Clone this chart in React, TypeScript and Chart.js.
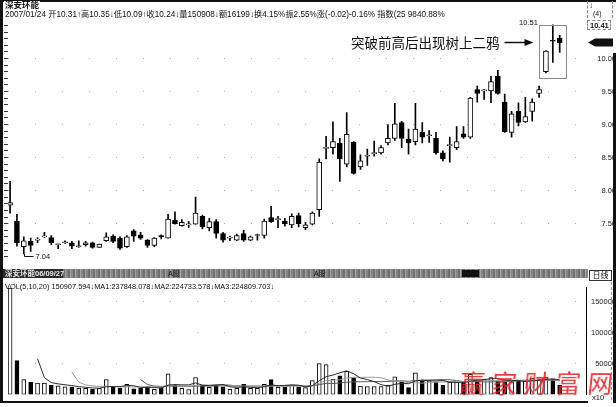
import { useEffect, useRef } from 'react';
import { Chart, registerables } from 'chart.js';

Chart.register(...registerables);

// Daily bars, 2006/09/27 – 2007/01/24
const openPrice = [
  7.78, 7.54, 7.15, 7.23, 7.25, 7.30, 7.29, 7.18, 7.21, 7.21,
  7.15, 7.18, 7.21, 7.14, 7.24, 7.31, 7.28, 7.15, 7.39, 7.33,
  7.25, 7.17, 7.32, 7.28, 7.55, 7.47, 7.48, 7.49, 7.61, 7.44,
  7.53, 7.35, 7.28, 7.25, 7.35, 7.25, 7.32, 7.32, 7.59, 7.56,
  7.54, 7.48, 7.62, 7.44, 7.49, 7.71, 8.64, 8.65, 8.72, 8.40,
  8.73, 8.36, 8.52, 8.56, 8.57, 8.72, 8.79, 9.03, 8.78, 8.74,
  8.88, 8.83, 8.79, 8.57, 8.68, 8.65, 8.86, 8.81, 9.53, 9.51,
  9.51, 9.73, 9.34, 8.88, 9.20, 9.04, 9.20, 9.47, 9.80, 10.27,
  10.31,
];
const highPrice = [
  8.14, 7.64, 7.30, 7.28, 7.29, 7.37, 7.32, 7.19, 7.24, 7.23,
  7.24, 7.23, 7.22, 7.19, 7.36, 7.33, 7.30, 7.32, 7.41, 7.37,
  7.26, 7.29, 7.33, 7.64, 7.68, 7.56, 7.53, 7.90, 7.63, 7.58,
  7.56, 7.37, 7.31, 7.34, 7.40, 7.31, 7.34, 7.57, 7.76, 7.61,
  7.58, 7.65, 7.66, 7.52, 7.68, 8.48, 8.82, 9.04, 8.79, 9.18,
  8.74, 8.54, 8.63, 8.75, 8.68, 9.00, 9.32, 9.05, 8.93, 9.32,
  9.03, 8.91, 8.88, 8.60, 8.81, 8.97, 8.97, 9.41, 9.58, 9.53,
  9.73, 9.82, 9.46, 9.20, 9.33, 9.41, 9.39, 9.58, 10.12, 10.51,
  10.35,
];
const lowPrice = [
  7.66, 7.16, 7.04, 7.08, 7.21, 7.29, 7.18, 7.12, 7.20, 7.12,
  7.14, 7.16, 7.13, 7.14, 7.23, 7.21, 7.11, 7.14, 7.23, 7.26,
  7.14, 7.15, 7.27, 7.28, 7.49, 7.46, 7.44, 7.49, 7.42, 7.39,
  7.28, 7.22, 7.24, 7.24, 7.23, 7.24, 7.25, 7.28, 7.52, 7.44,
  7.46, 7.44, 7.45, 7.41, 7.48, 7.61, 8.48, 8.55, 8.14, 8.36,
  8.25, 8.32, 8.38, 8.52, 8.55, 8.69, 8.76, 8.65, 8.55, 8.69,
  8.72, 8.73, 8.55, 8.45, 8.43, 8.62, 8.79, 8.79, 9.34, 9.38,
  9.33, 9.46, 8.88, 8.81, 8.98, 9.03, 9.05, 9.41, 9.78, 9.94,
  10.09,
];
const closePrice = [
  7.82, 7.21, 7.24, 7.17, 7.26, 7.30, 7.21, 7.18, 7.22, 7.16,
  7.16, 7.21, 7.14, 7.19, 7.30, 7.23, 7.13, 7.30, 7.31, 7.28,
  7.17, 7.28, 7.30, 7.57, 7.50, 7.52, 7.48, 7.66, 7.45, 7.53,
  7.35, 7.25, 7.28, 7.32, 7.25, 7.30, 7.32, 7.54, 7.53, 7.56,
  7.50, 7.61, 7.50, 7.48, 7.66, 8.43, 8.65, 8.74, 8.48, 8.85,
  8.26, 8.45, 8.53, 8.57, 8.65, 8.79, 9.01, 8.79, 8.72, 8.93,
  8.81, 8.83, 8.57, 8.48, 8.68, 8.74, 8.81, 9.40, 9.47, 9.51,
  9.65, 9.47, 8.89, 9.16, 9.03, 9.12, 9.34, 9.53, 10.11, 10.26,
  10.24,
];
// Volume in units of 10 lots (the axis is marked x10)
const volume = [
  172000, 55000, 24000, 20000, 18500, 18500, 15000, 14000, 12500, 12000,
  10000, 10000, 8500, 10000, 24000, 11500, 10000, 16500, 9000, 10500,
  12500, 8500, 11000, 33500, 15000, 10000, 8000, 27500, 15000, 11500,
  15000, 12500, 8500, 10000, 16500, 10000, 10000, 16500, 24000, 11500,
  11500, 15000, 12500, 11000, 22500, 50000, 48500, 25000, 30000, 37500,
  27000, 13500, 13000, 13000, 13000, 15000, 28500, 20000, 11000, 35000,
  21500, 22400, 20000, 15000, 20000, 20000, 20000, 32500, 22500, 25000,
  27500, 21500, 19500, 21000, 21800, 22000, 26500, 24000, 28000, 25300,
  15090.76,
];

const priceTicks = [7.5, 8.0, 8.5, 9.0, 9.5, 10.0];
const volumeTicks = [50000, 100000, 150000];
const maPeriods = [5, 10, 20];
const maColors = ['#2a2a2a', '#9a9a9a', '#5a5a5a'];

const infoLine =
  '2007/01/24 开10.31↑高10.35↓低10.09↑收10.24↓量150908↓额16199↓换4.15%振2.55%涨(-0.02)-0.16% 指数(25 9840.88%';
const volLine =
  'VOL(5,10,20) 150907.594↓MA1:237848.078↓MA2:224733.578↓MA3:224809.703↓';
const stockName = '深安环能';
const note = '突破前高后出现树上二鸦';

// shared horizontal frame of both panels
const X_MIN = -0.3;
const X_MAX = 83.83;
const PRICE_MIN = 6.972;
const PRICE_MAX = 10.582;
const VOL_MAX = 173000;

const idx = openPrice.map((_, i) => i);
const isUp = (i: number) => closePrice[i] >= openPrice[i];

const AXIS_FONT = { family: '"Liberation Sans", Arial, sans-serif', size: 7.5 };

const priceMarks = {
  id: 'priceMarks',
  afterDatasetsDraw(chart: any) {
    const { ctx, scales } = chart;
    const xs = scales.x;
    const ys = scales.y;
    ctx.save();
    ctx.strokeStyle = '#111';
    ctx.fillStyle = '#111';
    ctx.lineWidth = 1;
    ctx.font = '7.5px "Liberation Sans", Arial, sans-serif';

    let hi = 0;
    let lo = 0;
    highPrice.forEach((v, i) => { if (v > highPrice[hi]) hi = i; });
    lowPrice.forEach((v, i) => { if (v < lowPrice[lo]) lo = i; });

    // highest price tag
    const hx = xs.getPixelForValue(hi);
    const hy = Math.round(ys.getPixelForValue(highPrice[hi])) + 0.5;
    ctx.beginPath();
    ctx.moveTo(hx - 1, hy);
    ctx.lineTo(hx - 13, hy);
    ctx.stroke();
    ctx.textAlign = 'right';
    ctx.textBaseline = 'bottom';
    ctx.fillText(highPrice[hi].toFixed(2), hx - 15, hy + 1);

    // lowest price tag
    const lx = Math.round(xs.getPixelForValue(lo)) + 0.5;
    const ly = ys.getPixelForValue(lowPrice[lo]);
    ctx.beginPath();
    ctx.moveTo(lx, ly);
    ctx.lineTo(lx, ly + 2.5);
    ctx.lineTo(lx + 9, ly + 2.5);
    ctx.stroke();
    ctx.textAlign = 'left';
    ctx.textBaseline = 'middle';
    ctx.fillText(lowPrice[lo].toFixed(2), lx + 11, ly + 2.5);

    // frame around the last three sessions
    const last = openPrice.length - 1;
    const first = last - 2;
    let boxLow = Infinity;
    for (let i = first; i <= last; i++) boxLow = Math.min(boxLow, lowPrice[i]);
    const bx0 = Math.round(xs.getPixelForValue(first) - 7) + 0.5;
    const bx1 = Math.round(xs.getPixelForValue(last) + 6.5) + 0.5;
    const by0 = hy;
    const by1 = Math.round(ys.getPixelForValue(boxLow) + 5) + 0.5;
    ctx.strokeStyle = '#8a8a8a';
    ctx.strokeRect(bx0, by0, bx1 - bx0, by1 - by0);

    // arrow and caption
    const ay = by0 + 17;
    ctx.strokeStyle = '#111';
    ctx.lineWidth = 1.5;
    ctx.beginPath();
    ctx.moveTo(bx0 - 35, ay);
    ctx.lineTo(bx0 - 14, ay);
    ctx.stroke();
    ctx.beginPath();
    ctx.moveTo(bx0 - 6, ay);
    ctx.lineTo(bx0 - 15, ay - 3.5);
    ctx.lineTo(bx0 - 15, ay + 3.5);
    ctx.closePath();
    ctx.fill();
    ctx.font = '13.5px "Noto Sans CJK SC", sans-serif';
    ctx.textAlign = 'right';
    ctx.textBaseline = 'middle';
    ctx.fillText(note, bx0 - 40, ay);

    // current close marker on the price axis
    const cy = ys.getPixelForValue(closePrice[last]);
    const ax = chart.chartArea.right + 2;
    ctx.beginPath();
    ctx.moveTo(ax, cy);
    ctx.lineTo(ax + 7, cy - 4);
    ctx.lineTo(613, cy - 4);
    ctx.lineTo(613, cy + 4);
    ctx.lineTo(ax + 7, cy + 4);
    ctx.closePath();
    ctx.fill();
    ctx.restore();
  },
};

function movingAverage(values: number[], n: number) {
  return values.map((_, i) => {
    if (i < n - 1) return null;
    let s = 0;
    for (let k = i - n + 1; k <= i; k++) s += values[k];
    return s / n;
  });
}

export default function App() {
  const priceRef = useRef<HTMLCanvasElement>(null);
  const volRef = useRef<HTMLCanvasElement>(null);

  useEffect(() => {
    const leftTicks: number[] = [];
    for (let v = 7.0; v <= 10.55; v += 0.1) leftTicks.push(Math.round(v * 10) / 10);

    const xScale = {
      type: 'linear',
      min: X_MIN,
      max: X_MAX,
      offset: false,
      display: false,
      grid: { offset: false },
    };

    const priceChart = new Chart(priceRef.current as HTMLCanvasElement, {
      type: 'bar',
      data: {
        datasets: [
          {
            label: 'body',
            data: idx.map((i) => ({ x: i, y: [openPrice[i], closePrice[i]] })) as any,
            backgroundColor: idx.map((i) => (isUp(i) ? '#ffffff' : '#000000')),
            borderColor: '#000000',
            borderWidth: 1,
            borderSkipped: false,
            barThickness: 5,
            minBarLength: 1,
            grouped: false,
            order: 1,
            yAxisID: 'y',
          } as any,
          {
            label: 'wick',
            data: idx.map((i) => ({ x: i, y: [lowPrice[i], highPrice[i]] })) as any,
            backgroundColor: '#000000',
            borderWidth: 0,
            barThickness: 1,
            grouped: false,
            order: 2,
            yAxisID: 'y',
          } as any,
        ],
      },
      options: {
        responsive: false,
        animation: false,
        devicePixelRatio: 1,
        events: [],
        layout: { padding: { top: 20, bottom: 2, left: 0, right: 0 } },
        plugins: { legend: { display: false }, tooltip: { enabled: false } },
        scales: {
          x: xScale,
          y: {
            type: 'linear',
            position: 'right',
            min: PRICE_MIN,
            max: PRICE_MAX,
            afterFit: (s: any) => { s.width = 30; },
            afterBuildTicks: (s: any) => { s.ticks = priceTicks.map((v) => ({ value: v })); },
            ticks: {
              padding: 7,
              crossAlign: 'far',
              color: '#222',
              font: AXIS_FONT,
              callback: (v: any) => Number(v).toFixed(2),
            },
            grid: { drawTicks: false, color: '#b0b0b0', lineWidth: 1 },
            border: { display: false, dash: [1, 26] },
          },
          yl: {
            axis: 'y',
            type: 'linear',
            position: 'left',
            min: PRICE_MIN,
            max: PRICE_MAX,
            afterFit: (s: any) => { s.width = 8; },
            afterBuildTicks: (s: any) => { s.ticks = leftTicks.map((v) => ({ value: v })); },
            ticks: { display: false },
            grid: { drawOnChartArea: false, drawTicks: true, tickLength: 4, color: '#333' },
            border: { display: false },
          },
        } as any,
      },
      plugins: [priceMarks],
    });

    const volChart = new Chart(volRef.current as HTMLCanvasElement, {
      type: 'bar',
      data: {
        datasets: [
          ...maPeriods.map((n, k) => ({
            type: 'line' as const,
            label: 'MA' + n,
            data: movingAverage(volume, n).map((v, i) => ({ x: i, y: v })) as any,
            borderColor: maColors[k],
            borderWidth: 1,
            pointRadius: 0,
            spanGaps: false,
            order: 0,
            yAxisID: 'y',
          })),
          {
            type: 'bar' as const,
            label: 'VOL',
            data: idx.map((i) => ({ x: i, y: volume[i] })) as any,
            backgroundColor: idx.map((i) => (isUp(i) ? '#ffffff' : '#000000')),
            borderColor: '#000000',
            borderWidth: 1,
            borderSkipped: false,
            barThickness: 4,
            grouped: false,
            order: 1,
            yAxisID: 'y',
          } as any,
        ],
      },
      options: {
        responsive: false,
        animation: false,
        devicePixelRatio: 1,
        events: [],
        layout: { padding: { top: 3, bottom: 3.7, left: 8, right: 0 } },
        plugins: { legend: { display: false }, tooltip: { enabled: false } },
        scales: {
          x: xScale,
          y: {
            type: 'linear',
            position: 'right',
            min: 0,
            max: VOL_MAX,
            afterFit: (s: any) => { s.width = 30; },
            afterBuildTicks: (s: any) => { s.ticks = volumeTicks.map((v) => ({ value: v })); },
            ticks: {
              padding: 3,
              crossAlign: 'far',
              color: '#222',
              font: AXIS_FONT,
              callback: (v: any) => String(v),
            },
            grid: { drawTicks: false, color: '#b0b0b0', lineWidth: 1 },
            border: { display: true, color: '#000', width: 1, dash: [1, 26] },
          },
        } as any,
      },
    });

    return () => {
      priceChart.destroy();
      volChart.destroy();
    };
  }, []);

  const small: any = {
    position: 'absolute',
    fontSize: 8,
    lineHeight: '9px',
    whiteSpace: 'nowrap',
    color: '#111',
    fontFamily: '"Liberation Sans", "Noto Sans CJK SC", sans-serif',
  };

  return (
    <div
      style={{
        position: 'absolute',
        left: 0,
        top: 0,
        width: 616,
        height: 407,
        background: '#fff',
        overflow: 'hidden',
      }}
    >
      <canvas
        ref={priceRef}
        width={616}
        height={270}
        style={{ position: 'absolute', left: 0, top: 0, width: 616, height: 270 }}
      />
      <canvas
        ref={volRef}
        width={616}
        height={122}
        style={{ position: 'absolute', left: 0, top: 280, width: 616, height: 122 }}
      />

      {/* frame lines */}
      <div style={{ position: 'absolute', left: 0, top: 0, width: 616, height: 2, background: '#111' }} />
      <div style={{ position: 'absolute', left: 0, top: 0, width: 3, height: 402, background: '#111' }} />
      <div style={{ position: 'absolute', left: 0, top: 401, width: 588, height: 1.5, background: '#111' }} />
      <div style={{ position: 'absolute', left: 613, top: 53, width: 3, height: 350, background: '#111' }} />
      <div style={{ position: 'absolute', left: 611, top: 282, width: 0, height: 118, borderLeft: '1px dashed #999' }} />

      {/* header */}
      <div style={{ ...small, left: 4, top: 1, fontWeight: 'bold', fontSize: 8.5, background: '#fff', padding: '0 1px' }}>
        {stockName}
      </div>
      <div style={{ ...small, left: 5, top: 10, fontSize: 8.2 }}>{infoLine}</div>

      {/* top-right corner */}
      <div style={{ position: 'absolute', left: 587, top: 1, width: 24, height: 17, borderLeft: '1px dashed #888', borderRight: '1px dashed #888' }} />
      <div style={{ ...small, left: 589, top: 1, fontWeight: 'bold', fontSize: 8 }}>↓</div>
      <div style={{ ...small, left: 593, top: 9, fontSize: 7 }}>(4)</div>
      <div style={{ position: 'absolute', left: 587, top: 20, width: 24, height: 10, border: '1px dashed #888', boxSizing: 'border-box' }} />
      <div style={{ ...small, left: 590, top: 21, fontSize: 7.5, fontWeight: 'bold' }}>10.41</div>

      {/* separator band */}
      <div
        style={{
          position: 'absolute',
          left: 3,
          top: 269,
          width: 585,
          height: 9,
          background: 'repeating-linear-gradient(90deg, #6f6f6f 0 2px, #a2a2a2 2px 3px, #858585 3px 5px)',
        }}
      />
      <div style={{ position: 'absolute', left: 3, top: 269, width: 60, height: 9, background: '#2a2a2a' }} />
      <div style={{ ...small, left: 5, top: 269, fontSize: 7.5, color: '#e8e8e8', fontWeight: 'bold' }}>
        {stockName}06/09/27
      </div>
      <div style={{ ...small, left: 168, top: 269, fontSize: 7, color: '#111' }}>A股</div>
      <div style={{ ...small, left: 314, top: 269, fontSize: 7, color: '#111' }}>A股</div>
      <div style={{ position: 'absolute', left: 462, top: 270, width: 17, height: 7, background: '#111' }} />
      <div
        style={{
          ...small,
          left: 589,
          top: 270,
          width: 23,
          height: 11,
          border: '1px solid #333',
          boxSizing: 'border-box',
          background: '#fff',
          fontSize: 8,
          lineHeight: '9px',
          textAlign: 'center',
        }}
      >
        日线
      </div>

      {/* volume header and unit */}
      <div style={{ ...small, left: 5, top: 282, fontSize: 7.4 }}>{volLine}</div>
      <div style={{ ...small, left: 592, top: 393, fontSize: 7.5 }}>x10</div>

      {/* site mark */}
      <div
        style={{
          position: 'absolute',
          left: 460,
          top: 364,
          fontSize: 25,
          letterSpacing: 7,
          color: '#e4262b',
          fontFamily: '"Noto Sans CJK SC", sans-serif',
          whiteSpace: 'nowrap',
          transform: 'skewX(-6deg)',
          opacity: 0.92,
        }}
      >
        赢家财富网
      </div>
    </div>
  );
}
